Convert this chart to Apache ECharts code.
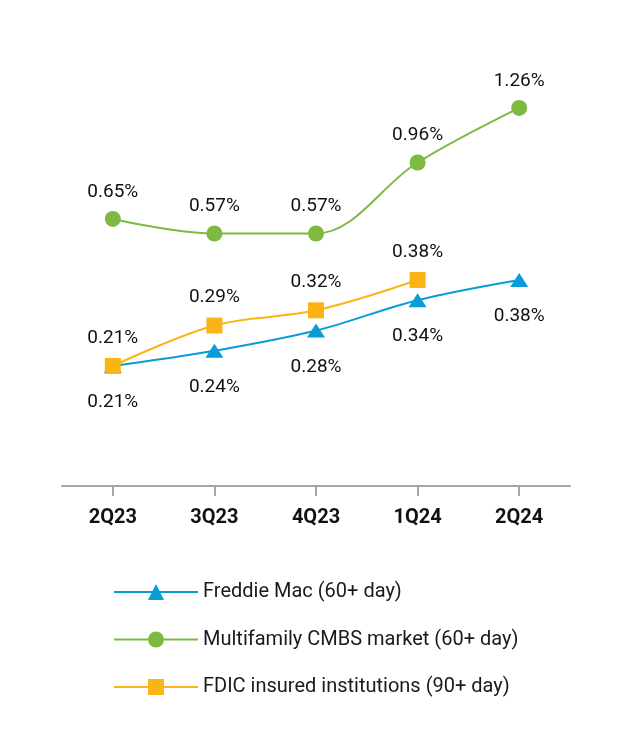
<!DOCTYPE html>
<html>
<head>
<meta charset="utf-8">
<script src="https://cdn.jsdelivr.net/npm/echarts@6/dist/echarts.min.js"></script>
<style>
html,body{margin:0;padding:0;background:#fff;}
#chart{width:634px;height:740px;}
</style>
</head>
<body>
<div id="chart"></div>
<script>
var categories = ['2Q23', '3Q23', '4Q23', '1Q24', '2Q24'];
var freddieMac = [0.21, 0.24, 0.28, 0.34, 0.38];
var cmbsMarket = [0.65, 0.57, 0.57, 0.96, 1.26];
var fdicInsured = [0.21, 0.29, 0.32, 0.38, null];
var seriesNames = ['Freddie Mac (60+ day)', 'Multifamily CMBS market (60+ day)', 'FDIC insured institutions (90+ day)'];

var FONT = "Roboto, 'Liberation Sans', sans-serif";
var BLUE = '#0a9cd8', GREEN = '#7dba42', YELLOW = '#fbb416';

function pct(p) { return p.value == null ? '' : Number(p.value).toFixed(2) + '%'; }

var chart = echarts.init(document.getElementById('chart'), null, {renderer: 'canvas'});
chart.setOption({
  backgroundColor: '#ffffff',
  animation: false,
  grid: {left: 62, right: 64, top: 40, bottom: 254},
  xAxis: {
    type: 'category',
    data: categories,
    boundaryGap: true,
    axisLine: {show: true, onZero: false, lineStyle: {color: '#a6a6a6', width: 2}},
    axisTick: {show: true, inside: false, alignWithLabel: true, length: 10, interval: 0,
      lineStyle: {color: '#a6a6a6', width: 2}},
    axisLabel: {margin: 22, color: '#111', fontFamily: FONT, fontWeight: 'bold', fontSize: 20}
  },
  yAxis: [
    {type: 'value', min: -0.0272, max: 0.8542, show: false, splitLine: {show: false}},
    {type: 'value', min: -0.8174, max: 1.6331, show: false, splitLine: {show: false}}
  ],
  legend: {
    orient: 'vertical',
    left: 113,
    top: 580,
    padding: 0,
    itemWidth: 84,
    itemHeight: 20,
    itemGap: 23.5,
    data: seriesNames,
    textStyle: {fontFamily: FONT, fontSize: 20, color: '#1a1a1a', lineHeight: 24}
  },
  series: [
    {
      name: seriesNames[0], type: 'line', yAxisIndex: 0, data: freddieMac,
      smooth: 0.35, symbol: 'triangle', symbolSize: [18, 14],
      lineStyle: {color: BLUE, width: 2}, itemStyle: {color: BLUE},
      label: {show: true, position: 'bottom', distance: 20, formatter: pct,
        fontFamily: FONT, fontSize: 19, color: '#111'}
    },
    {
      name: seriesNames[1], type: 'line', yAxisIndex: 1, data: cmbsMarket,
      smooth: 0.35, symbol: 'circle', symbolSize: 16,
      lineStyle: {color: GREEN, width: 2}, itemStyle: {color: GREEN},
      label: {show: true, position: 'top', distance: 9.5, formatter: pct,
        fontFamily: FONT, fontSize: 19, color: '#111'}
    },
    {
      name: seriesNames[2], type: 'line', yAxisIndex: 0, data: fdicInsured,
      smooth: 0.35, symbol: 'rect', symbolSize: 16,
      lineStyle: {color: YELLOW, width: 2}, itemStyle: {color: YELLOW},
      label: {show: true, position: 'top', distance: 10.5, formatter: pct,
        fontFamily: FONT, fontSize: 19, color: '#111'}
    }
  ]
});
</script>
</body>
</html>
